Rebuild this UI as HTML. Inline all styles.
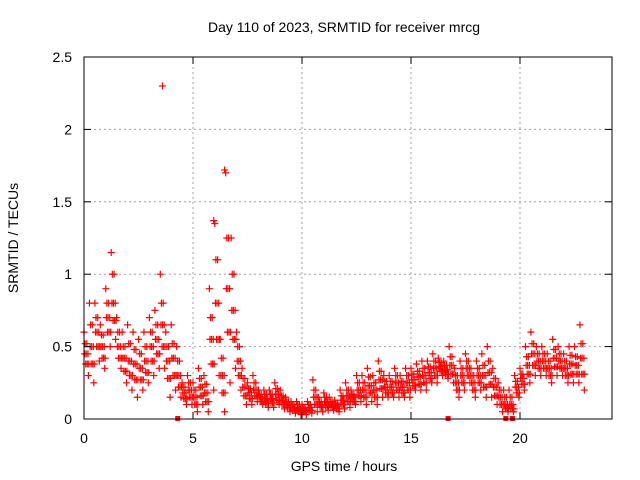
<!DOCTYPE html>
<html><head><meta charset="utf-8"><style>
body{margin:0;background:#fff}
svg{display:block;font-family:"Liberation Sans",sans-serif}
</style></head><body>
<svg id="chart" width="640" height="480" viewBox="0 0 640 480">
<rect width="640" height="480" fill="#fff"/>
<g id="grid"></g>
<g id="marks"></g>
<rect x="84" y="57" width="528" height="362" fill="none" stroke="#000" stroke-width="1"/>
<g id="axes" font-size="14" fill="#000"></g>
<text x="344" y="32" text-anchor="middle" font-size="14">Day 110 of 2023, SRMTID for receiver mrcg</text>
<text x="344" y="471" text-anchor="middle" font-size="14">GPS time / hours</text>
<text transform="translate(18,238) rotate(-90)" text-anchor="middle" font-size="14">SRMTID / TECUs</text>
</svg>
<script>
const xTicks=[0,5,10,15,20];
const yTicks=[0,0.5,1,1.5,2,2.5];
const yTickLabels=["0","0.5","1","1.5","2","2.5"];
const times=[0,0.25,0.5,0.75,1,1.25,1.5,1.75,2,2.25,2.5,2.75,3,3.25,3.5,3.75,4,4.25,4.5,4.75,5,5.25,5.5,5.75,6,6.25,6.5,6.75,7,7.25,7.5,7.75,8,8.25,8.5,8.75,9,9.25,9.5,9.75,10,10.25,10.5,10.75,11,11.25,11.5,11.75,12,12.25,12.5,12.75,13,13.25,13.5,13.75,14,14.25,14.5,14.75,15,15.25,15.5,15.75,16,16.25,16.5,16.75,17,17.25,17.5,17.75,18,18.25,18.5,18.75,19,19.25,19.5,19.75,20,20.25,20.5,20.75,21,21.25,21.5,21.75,22,22.25,22.5,22.75];
const hiVals=[0.6,0.8,0.8,0.65,0.9,1.15,0.7,0.6,0.65,0.6,0.55,0.6,0.7,0.75,1.0,0.6,0.65,0.5,0.25,0.3,0.25,0.35,0.3,0.9,1.35,0.55,1.7,1.25,0.6,0.35,0.25,0.3,0.2,0.2,0.2,0.25,0.2,0.15,0.12,0.12,0.1,0.12,0.27,0.15,0.18,0.15,0.13,0.2,0.25,0.2,0.3,0.3,0.35,0.3,0.4,0.3,0.3,0.35,0.3,0.35,0.35,0.38,0.4,0.4,0.45,0.42,0.4,0.5,0.35,0.4,0.45,0.35,0.4,0.45,0.5,0.35,0.25,0.2,0.2,0.3,0.35,0.5,0.6,0.5,0.5,0.45,0.55,0.5,0.45,0.5,0.5,0.65];
const upVals=[0.52,0.65,0.7,0.58,0.8,1.0,0.6,0.5,0.52,0.48,0.45,0.5,0.6,0.65,0.8,0.5,0.52,0.4,0.22,0.25,0.2,0.28,0.24,0.7,1.1,0.42,1.25,1.0,0.5,0.28,0.21,0.25,0.17,0.17,0.17,0.21,0.16,0.12,0.1,0.1,0.08,0.1,0.2,0.12,0.15,0.12,0.11,0.16,0.2,0.17,0.25,0.25,0.29,0.25,0.33,0.26,0.26,0.3,0.26,0.3,0.31,0.33,0.35,0.36,0.4,0.39,0.37,0.43,0.3,0.35,0.4,0.3,0.35,0.37,0.4,0.28,0.2,0.15,0.15,0.26,0.31,0.43,0.52,0.45,0.45,0.4,0.48,0.45,0.4,0.44,0.43,0.52];
const midVals=[0.45,0.5,0.6,0.5,0.7,0.8,0.5,0.42,0.4,0.38,0.35,0.4,0.5,0.55,0.65,0.4,0.42,0.3,0.18,0.2,0.15,0.22,0.18,0.55,0.8,0.3,0.9,0.75,0.4,0.22,0.18,0.2,0.15,0.14,0.14,0.17,0.13,0.1,0.08,0.07,0.06,0.08,0.15,0.1,0.12,0.1,0.09,0.13,0.16,0.15,0.2,0.2,0.23,0.2,0.27,0.22,0.22,0.25,0.22,0.25,0.27,0.29,0.3,0.32,0.35,0.36,0.34,0.37,0.25,0.3,0.35,0.25,0.3,0.3,0.32,0.22,0.15,0.1,0.1,0.22,0.28,0.37,0.45,0.4,0.4,0.35,0.42,0.4,0.35,0.38,0.37,0.42];
const downVals=[0.38,0.38,0.5,0.42,0.6,0.68,0.42,0.33,0.3,0.27,0.27,0.32,0.4,0.45,0.5,0.28,0.3,0.22,0.14,0.15,0.1,0.16,0.12,0.38,0.55,0.18,0.6,0.55,0.3,0.16,0.14,0.16,0.12,0.11,0.11,0.13,0.1,0.08,0.06,0.05,0.05,0.06,0.1,0.08,0.09,0.08,0.07,0.1,0.12,0.12,0.16,0.15,0.18,0.15,0.21,0.18,0.18,0.2,0.18,0.2,0.23,0.24,0.25,0.28,0.3,0.33,0.31,0.31,0.2,0.25,0.3,0.2,0.25,0.22,0.24,0.16,0.1,0.07,0.07,0.18,0.24,0.31,0.37,0.35,0.35,0.3,0.36,0.35,0.3,0.31,0.31,0.31];
const loVals=[0.3,0.25,0.4,0.35,0.5,0.55,0.35,0.25,0.2,0.15,0.2,0.25,0.3,0.35,0.35,0.15,0.2,0.15,0.1,0.1,0.05,0.1,0.05,0.2,0.3,0.05,0.25,0.35,0.2,0.1,0.1,0.12,0.1,0.08,0.08,0.1,0.07,0.05,0.04,0.03,0.03,0.04,0.05,0.05,0.06,0.06,0.05,0.07,0.08,0.1,0.12,0.1,0.12,0.1,0.15,0.15,0.15,0.15,0.15,0.15,0.2,0.2,0.2,0.25,0.25,0.3,0.28,0.25,0.15,0.2,0.25,0.15,0.2,0.15,0.15,0.1,0.05,0.05,0.05,0.15,0.2,0.25,0.3,0.3,0.3,0.25,0.3,0.3,0.25,0.25,0.25,0.2];
const outlierTimes=[3.6,6.45,5.95];
const outlierVals=[2.3,1.72,1.37];
const zeroTimes=[4.3,16.7,19.35,19.65];

const X=v=>84+v*21.8;
const Y=v=>419-v*144.8;
const NS="http://www.w3.org/2000/svg";
const grid=document.getElementById('grid'),marks=document.getElementById('marks'),axes=document.getElementById('axes');
function mk(tag,attrs,parent){const e=document.createElementNS(NS,tag);for(const k in attrs)e.setAttribute(k,attrs[k]);parent.appendChild(e);return e;}
xTicks.forEach(t=>{
  const x=X(t);
  if(t>0){const g=mk('line',{x1:x,x2:x,y1:57,y2:419,stroke:'#a0a0a0','stroke-dasharray':'2,3'},grid);
  
  }
  mk('line',{x1:x,x2:x,y1:419,y2:412,stroke:'#000'},axes);
  mk('line',{x1:x,x2:x,y1:57,y2:64,stroke:'#000'},axes);
  const l=mk('text',{x:x,y:443,'text-anchor':'middle'},axes);l.textContent=t;
  
  
});
yTicks.forEach((t,i)=>{
  const y=Y(t);
  if(t>0&&t<2.5){const g=mk('line',{x1:84,x2:612,y1:y,y2:y,stroke:'#a0a0a0','stroke-dasharray':'2,3'},grid);
  
  }
  mk('line',{x1:84,x2:91,y1:y,y2:y,stroke:'#000'},axes);
  mk('line',{x1:612,x2:605,y1:y,y2:y,stroke:'#000'},axes);
  const l=mk('text',{x:72,y:y+5,'text-anchor':'end'},axes);l.textContent=yTickLabels[i];
  
  
});
function plus(t,v){
  const x=X(t),y=Y(v);
  const p=mk('path',{d:`M${x-3.5},${y}h7M${x},${y-3.5}v7`,stroke:'#f00','stroke-width':1.2,fill:'none'},marks);
  
  
}
times.forEach((t,i)=>{
  plus(t,hiVals[i]);plus(t+0.05,upVals[i]);plus(t+0.1,midVals[i]);plus(t+0.15,downVals[i]);plus(t+0.2,loVals[i]);
  plus(t+0.03,midVals[i]);plus(t+0.08,downVals[i]);plus(t+0.13,upVals[i]);plus(t+0.18,midVals[i]);plus(t+0.22,downVals[i]);
});
outlierTimes.forEach((t,i)=>plus(t,outlierVals[i]));
zeroTimes.forEach(t=>{
  const r=mk('rect',{x:X(t)-2.5,y:416,width:5,height:5,fill:'#f00'},marks);
  
  
});
</script>
</body></html>
